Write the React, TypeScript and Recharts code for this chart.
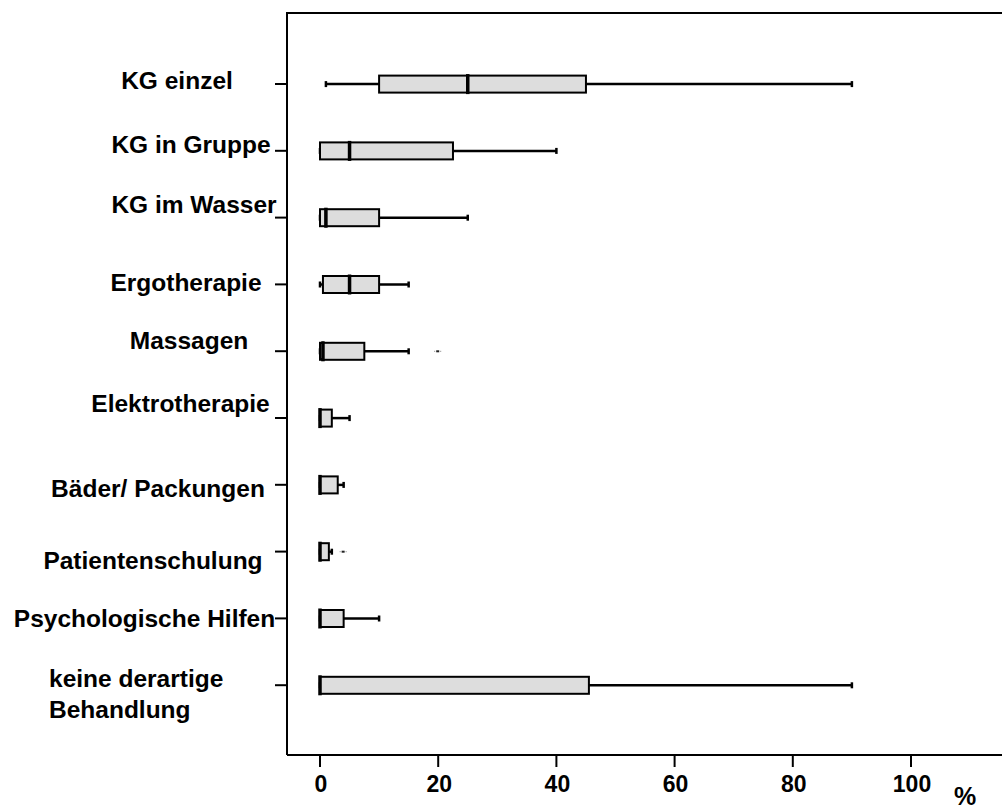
import React from "react";
import { ComposedChart, Bar, XAxis, YAxis } from "recharts";

const categories = [
  "KG einzel",
  "KG in Gruppe",
  "KG im Wasser",
  "Ergotherapie",
  "Massagen",
  "Elektrotherapie",
  "Bäder/ Packungen",
  "Patientenschulung",
  "Psychologische Hilfen",
  "keine derartige Behandlung",
];

// box plot statistics, percent
const minVals = [1, 0, 0, 0, 0, 0, 0, 0, 0, 0];
const q1Vals = [10, 0, 0, 0.5, 0, 0, 0, 0, 0, 0];
const medianVals = [25, 5, 1, 5, 0.5, 0, 0, 0, 0, 0];
const q3Vals = [45, 22.5, 10, 10, 7.5, 2, 3, 1.5, 4, 45.5];
const maxVals = [90, 40, 25, 15, 15, 5, 4, 2, 10, 90];
const outliers: (number | null)[] = [null, null, null, null, 20, null, null, 4, null, null];

const xTicks = [0, 20, 40, 60, 80, 100];

// stacked segments: base -> lower whisker -> box (2 halves) -> upper whisker -> outlier gap
const rows = categories.map((name, i) => ({
  name,
  base: minVals[i],
  lowWhisker: q1Vals[i] - minVals[i],
  lowBox: medianVals[i] - q1Vals[i],
  highBox: q3Vals[i] - medianVals[i],
  highWhisker: maxVals[i] - q3Vals[i],
  outlierGap: outliers[i] == null ? 0 : (outliers[i] as number) - maxVals[i],
  hasOutlier: outliers[i] != null,
}));

// where each hand-placed label sits: centre x (or left x) and baseline offset from its tick
const LABEL_LAYOUT: Record<string, { x: number; dy: number; anchor?: string }> = {
  "KG einzel": { x: 177, dy: 5 },
  "KG in Gruppe": { x: 191, dy: 2.5 },
  "KG im Wasser": { x: 194, dy: -4.3 },
  "Ergotherapie": { x: 186, dy: 7 },
  "Massagen": { x: 189, dy: -2 },
  "Elektrotherapie": { x: 180.5, dy: -6.3 },
  "Bäder/ Packungen": { x: 158, dy: 12 },
  "Patientenschulung": { x: 153, dy: 17.7 },
  "Psychologische Hilfen": { x: 144.5, dy: 8.3 },
  "keine derartige Behandlung": { x: 49, dy: 1.8, anchor: "start" },
};

const FONT = "'Liberation Sans', Arial, Helvetica, sans-serif";
const BOX_FILL = "#dddddd";

const CategoryTick = (props: any) => {
  const { y, payload } = props;
  const name: string = payload.value;
  const lay = LABEL_LAYOUT[name] ?? { x: 180, dy: 6 };
  const style = { fontFamily: FONT, fontWeight: 700, fontSize: 24.5, fill: "#000" };
  if (name === "keine derartige Behandlung") {
    return (
      <g>
        <text x={lay.x} y={y + lay.dy} textAnchor="start" style={style}>keine derartige</text>
        <text x={lay.x} y={y + lay.dy + 31} textAnchor="start" style={style}>Behandlung</text>
      </g>
    );
  }
  return (
    <text x={lay.x} y={y + lay.dy} textAnchor={lay.anchor ?? "middle"} style={style}>
      {name}
    </text>
  );
};

const LowWhisker = (p: any) => {
  const cy = p.y + p.height / 2;
  return (
    <g>
      <line x1={p.x} x2={p.x + p.width} y1={cy} y2={cy} stroke="#000" strokeWidth={2.5} />
      <line x1={p.x} x2={p.x} y1={cy - 3} y2={cy + 3} stroke="#000" strokeWidth={2.5} />
    </g>
  );
};

const LowBox = (p: any) => {
  if (!p.width) return <g />;
  return <rect x={p.x} y={p.y} width={p.width} height={p.height} fill={BOX_FILL} stroke="#000" strokeWidth={2} />;
};

const HighBox = (p: any) => (
  <g>
    <rect x={p.x} y={p.y} width={p.width} height={p.height} fill={BOX_FILL} stroke="#000" strokeWidth={2} />
    <rect x={p.x - 1.75} y={p.y - 1.5} width={3.5} height={p.height + 3} fill="#000" />
  </g>
);

const HighWhisker = (p: any) => {
  const cy = p.y + p.height / 2;
  const end = p.x + p.width;
  return (
    <g>
      <line x1={p.x} x2={end} y1={cy} y2={cy} stroke="#000" strokeWidth={2.5} />
      <line x1={end} x2={end} y1={cy - 3} y2={cy + 3} stroke="#000" strokeWidth={2.5} />
    </g>
  );
};

const OutlierMark = (p: any) => {
  if (!p.payload || !p.payload.hasOutlier) return <g />;
  const cy = p.y + p.height / 2;
  const end = p.x + p.width;
  return (
    <g>
      <rect x={end - 2} y={cy - 1} width={3} height={2} fill="#222" />
      <rect x={end - 4} y={cy - 0.5} width={1} height={1} fill="#888" />
      <rect x={end + 2} y={cy - 0.5} width={1} height={1} fill="#888" />
    </g>
  );
};

const PercentLabel = (props: any) => {
  const vb = props.viewBox || { x: 0, y: 0, width: 0, height: 0 };
  return (
    <text
      x={965}
      y={vb.y + 50}
      textAnchor="middle"
      style={{ fontFamily: FONT, fontWeight: 700, fontSize: 25, fill: "#000" }}
    >
      %
    </text>
  );
};

export default function App() {
  // plot runs past the right page edge, as in the original figure (no right frame line)
  const xDomain = [-5.584, 117.09];
  return (
    <div
      style={{
        position: "absolute",
        left: 0,
        top: 0,
        width: 1002,
        height: 812,
        overflow: "hidden",
        background: "#fff",
      }}
    >
      <ComposedChart
        width={1012}
        height={812}
        data={rows}
        layout="vertical"
        margin={{ top: 13, right: 0, bottom: 0, left: 0 }}
        barCategoryGap={0}
      >
        <XAxis
          type="number"
          domain={xDomain}
          allowDataOverflow
          ticks={xTicks}
          height={57}
          tickSize={12}
          tickMargin={9}
          axisLine={{ stroke: "#000", strokeWidth: 2 }}
          tickLine={{ stroke: "#000", strokeWidth: 2 }}
          tick={{ fontFamily: FONT, fontWeight: 700, fontSize: 23, fill: "#000", dx: 1 }}
          label={{ content: PercentLabel }}
        />
        <YAxis
          type="category"
          dataKey="name"
          width={287}
          interval={0}
          padding={{ top: 37.6, bottom: 36.4 }}
          tickSize={12}
          axisLine={{ stroke: "#000", strokeWidth: 2 }}
          tickLine={{ stroke: "#000", strokeWidth: 2 }}
          tick={<CategoryTick />}
        />
        <Bar dataKey="base" stackId="box" barSize={17} fill="transparent" isAnimationActive={false} />
        <Bar dataKey="lowWhisker" stackId="box" barSize={17} shape={LowWhisker} isAnimationActive={false} />
        <Bar dataKey="lowBox" stackId="box" barSize={17} shape={LowBox} isAnimationActive={false} />
        <Bar dataKey="highBox" stackId="box" barSize={17} shape={HighBox} isAnimationActive={false} />
        <Bar dataKey="highWhisker" stackId="box" barSize={17} shape={HighWhisker} isAnimationActive={false} />
        <Bar dataKey="outlierGap" stackId="box" barSize={17} shape={OutlierMark} isAnimationActive={false} />
      </ComposedChart>
      {/* top frame line of the plot area */}
      <div style={{ position: "absolute", left: 286, top: 12, width: 716, height: 2, background: "#000" }} />
    </div>
  );
}
